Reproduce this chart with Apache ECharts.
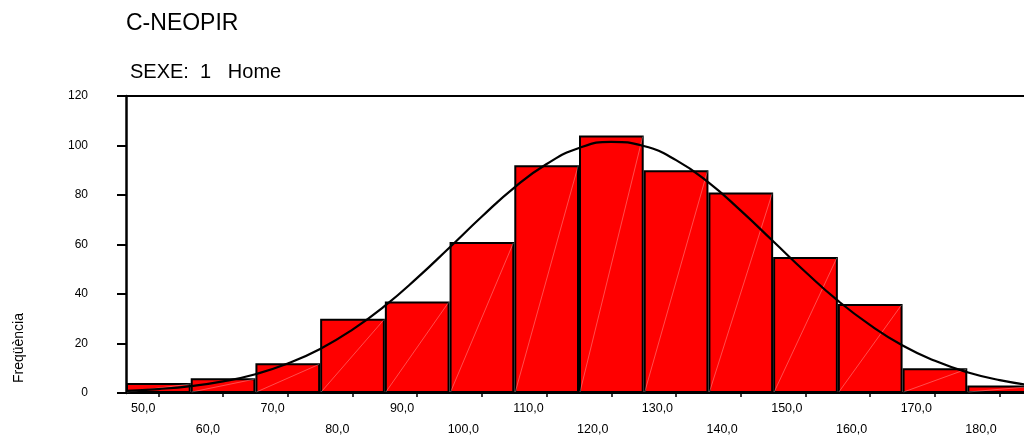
<!DOCTYPE html>
<html>
<head>
<meta charset="utf-8">
<script src="https://cdn.jsdelivr.net/npm/echarts@6/dist/echarts.min.js"></script>
<style>
html,body{margin:0;padding:0;background:#fff;}
#chart{width:1024px;height:436px;}
</style>
</head>
<body>
<div id="chart"></div>
<script>
// Histogram bins (labels) and frequencies
var categories = ['50,0','60,0','70,0','80,0','90,0','100,0','110,0','120,0','130,0','140,0','150,0','160,0','170,0','180,0'];
var frequencies = [4, 6, 12, 30, 37, 61, 92, 104, 90, 81, 55, 36, 10, 3];
// Normal curve (x value, frequency)
var curveX = [45,50,55,60,65,70,75,80,85,90,95,100,105,110,115,120,125,130,135,140,145,150,155,160,165,170,175,180,185];
var curveY = [0.85,1.6,2.8,4.7,7.6,11.9,17.8,25.6,35.2,46.5,58.8,71.3,83.0,92.5,99.0,101.5,99.8,94.1,85.1,73.7,61.3,48.9,37.3,27.4,19.2,13.0,8.4,5.2,3.1];
var yTicks = {min: 0, max: 120, interval: 20};
var titleText = 'C-NEOPIR';
var subtitleText = 'SEXE:  1   Home';
var yName = 'Freqüència';

var chart = echarts.init(document.getElementById('chart'), null, {renderer: 'canvas'});
var FONT = 'Liberation Sans, Arial, sans-serif';

var option = {
  animation: false,
  backgroundColor: '#fff',
  title: [
    {text: titleText, left: 121, top: 7, textStyle: {fontFamily: FONT, fontSize: 23, fontWeight: 'normal', color: '#000'}},
    {text: subtitleText, left: 125, top: 57, textStyle: {fontFamily: FONT, fontSize: 20, fontWeight: 'normal', color: '#000'}}
  ],
  graphic: [{
    type: 'text',
    x: 19, y: 348,
    rotation: Math.PI / 2,
    style: {text: yName, fontFamily: FONT, fontSize: 14, fill: '#000', align: 'center', verticalAlign: 'middle'}
  }],
  grid: {left: 126, top: 96, width: 906, height: 297, containLabel: false, outerBoundsMode: 'none'},
  xAxis: [
    {
      type: 'category',
      data: categories,
      position: 'bottom',
      boundaryGap: true,
      axisLine: {show: true, lineStyle: {color: '#000', width: 2}},
      axisTick: {show: true, alignWithLabel: true, length: 4, lineStyle: {color: '#000', width: 1.5}},
      axisLabel: {
        interval: 0,
        margin: 5,
        align: 'right',
        padding: [0, 3, 0, 0],
        lineHeight: 21,
        fontFamily: FONT, fontSize: 12.5, color: '#000',
        formatter: function (v, i) { return i % 2 ? '\n' + v : v; }
      },
      splitLine: {show: false}
    },
    {
      type: 'value',
      min: 45, max: 185,
      position: 'top',
      axisLine: {show: true, onZero: false, lineStyle: {color: '#000', width: 2}},
      axisTick: {show: false},
      axisLabel: {show: false},
      splitLine: {show: false}
    }
  ],
  yAxis: {
    type: 'value',
    min: yTicks.min, max: yTicks.max, interval: yTicks.interval,
    axisLine: {show: true, lineStyle: {color: '#000', width: 2.5}},
    axisTick: {show: true, length: 9, lineStyle: {color: '#000', width: 2}},
    axisLabel: {margin: 38, fontFamily: FONT, fontSize: 12, color: '#000'},
    splitLine: {show: false}
  },
  series: [
    {
      type: 'bar',
      xAxisIndex: 0,
      data: frequencies,
      barCategoryGap: '0%',
      itemStyle: {color: '#ff0000', borderColor: '#000', borderWidth: 2},
      z: 2
    },
    {
      type: 'custom',
      xAxisIndex: 0,
      data: frequencies.map(function (v, i) { return [i, v]; }),
      renderItem: function (params, api) {
        var top = api.coord([api.value(0), api.value(1)]);
        var base = api.coord([api.value(0), 0]);
        var w = api.size([1, 0])[0];
        return {
          type: 'line',
          shape: {x1: top[0] - w / 2 + 1, y1: base[1] - 1, x2: top[0] + w / 2 - 1, y2: top[1] + 1},
          style: {stroke: 'rgba(255,255,255,0.3)', lineWidth: 1}
        };
      },
      z: 3
    },
    {
      type: 'line',
      xAxisIndex: 1,
      data: curveX.map(function (x, i) { return [x, curveY[i]]; }),
      smooth: true,
      symbol: 'none',
      lineStyle: {color: '#000', width: 2.2},
      z: 4
    }
  ]
};
chart.setOption(option);
</script>
</body>
</html>
